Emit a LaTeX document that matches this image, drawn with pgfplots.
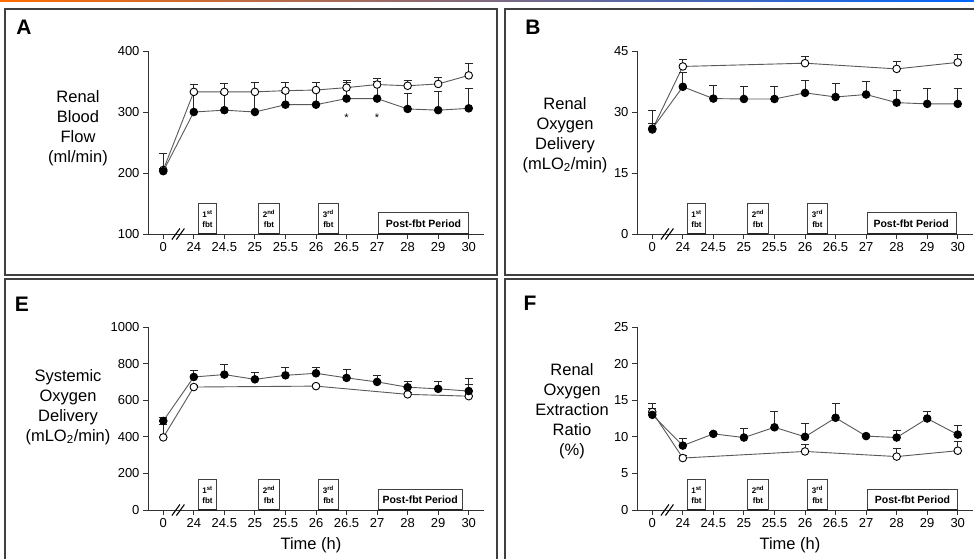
\documentclass[border=0pt]{standalone}
\usepackage{pgfplots}
\pgfplotsset{compat=1.18}
\usepackage{fontspec}
\setmainfont{Liberation Sans}
\begin{document}
\begin{tikzpicture}[x=1pt,y=1pt]
\useasboundingbox (0pt,0pt) rectangle (974pt,558pt);
\fill[white] (0pt,0pt) rectangle (974pt,558pt);
\shade[left color=orange!85!red, middle color=purple!35!pink, right color=blue!60!cyan] (0pt,556pt) rectangle (974pt,558pt);
% panel frames
\draw[black!75, line width=1.5pt] (5pt,549pt) rectangle (497pt,283pt);
\draw[black!75, line width=1.5pt] (505pt,549pt) rectangle (978pt,283pt);
\draw[black!75, line width=1.5pt] (5pt,279pt) rectangle (497pt,-5pt);
\draw[black!75, line width=1.5pt] (505pt,279pt) rectangle (978pt,-5pt);
% panel letters
\node[font=\fontsize{21}{21}\selectfont\bfseries] at (24pt,531pt) {A};
\node[font=\fontsize{21}{21}\selectfont\bfseries] at (533pt,531pt) {B};
\node[font=\fontsize{21}{21}\selectfont\bfseries] at (22pt,254pt) {E};
\node[font=\fontsize{21}{21}\selectfont\bfseries] at (530pt,255pt) {F};
% y labels
\node[align=center, font=\fontsize{16.5}{20}\selectfont] at (78pt,430pt) {Renal\\Blood\\Flow\\(ml/min)};
\node[align=center, font=\fontsize{16.5}{20}\selectfont] at (565pt,423pt) {Renal\\Oxygen\\Delivery\\(mLO\textsubscript{2}/min)};
\node[align=center, font=\fontsize{16.5}{20}\selectfont] at (68pt,151pt) {Systemic\\Oxygen\\Delivery\\(mLO\textsubscript{2}/min)};
\node[align=center, font=\fontsize{16.5}{20}\selectfont] at (572pt,147pt) {Renal\\Oxygen\\Extraction\\Ratio\\(\%)};
\node[font=\fontsize{16.5}{20}\selectfont] at (311pt,13pt) {Time (h)};
\node[font=\fontsize{16.5}{20}\selectfont] at (790pt,13pt) {Time (h)};

\tikzset{
  fbtbox/.style={draw=black!75, line width=1pt, fill=white},
  fbtlab/.style={align=center, font=\fontsize{8}{10}\selectfont\bfseries, inner sep=0pt},
}
\pgfplotsset{
  panel/.style={scale only axis, width=336pt, height=183pt,
    xmin=-0.5, xmax=10.5, axis lines=left, clip=false,
    axis line style={line width=0.9pt, black!80, -},
    xtick={0,...,10}, xticklabels={0,24,24.5,25,25.5,26,26.5,27,28,29,30},
    tick style={black!80, line width=0.9pt}, tick align=outside,
    major tick length=5pt,
    ticklabel style={font=\fontsize{13}{13}\selectfont},
    /pgf/number format/assume math mode=true,
    /pgf/number format/1000 sep={},
    anchor=south west},
  opn/.style={black!65, line width=0.9pt, mark=*, mark size=3.8pt,
    mark options={fill=white, draw=black, line width=0.9pt},
    error bars/.cd, y dir=plus, y explicit,
    error bar style={line width=1pt, black!85},
    error mark options={rotate=90, mark size=4pt, line width=1pt, black!85}},
  fld/.style={black!65, line width=0.9pt, mark=*, mark size=3.8pt,
    mark options={fill=black, draw=black},
    error bars/.cd, y dir=plus, y explicit,
    error bar style={line width=1pt, black!85},
    error mark options={rotate=90, mark size=4pt, line width=1pt, black!85}},
}
\newcommand{\fbtboxes}[3]{%
  \draw[fbtbox] (rel axis cs:0.149,0) rectangle (rel axis cs:0.205,0.164);
  \draw[fbtbox] (rel axis cs:0.330,0) rectangle (rel axis cs:0.390,0.164);
  \draw[fbtbox] (rel axis cs:0.506,0) rectangle (rel axis cs:0.568,0.164);
  \draw[fbtbox] (rel axis cs:0.685,0) rectangle (rel axis cs:#1,#2);
  \draw[line width=2pt, black!85] (rel axis cs:0.149,0) -- (rel axis cs:0.205,0);
  \draw[line width=2pt, black!85] (rel axis cs:0.330,0) -- (rel axis cs:0.390,0);
  \draw[line width=2pt, black!85] (rel axis cs:0.506,0) -- (rel axis cs:0.568,0);
  \draw[line width=2pt, black!85] (rel axis cs:0.685,0) -- (rel axis cs:#1,0);
  \node[fbtlab] at (rel axis cs:0.177,0.082) {1\textsuperscript{st}\\fbt};
  \node[fbtlab] at (rel axis cs:0.360,0.082) {2\textsuperscript{nd}\\fbt};
  \node[fbtlab] at (rel axis cs:0.537,0.082) {3\textsuperscript{rd}\\fbt};
  \node[font=\fontsize{10.5}{10.5}\selectfont\bfseries] at (rel axis cs:#3) {Post-fbt Period};
  \draw[line width=1.1pt] ([xshift=-2pt]rel axis cs:0.089,0) ++(-4pt,-5.5pt) -- ++(8pt,11pt);
  \draw[line width=1.1pt] ([xshift=2.5pt]rel axis cs:0.089,0) ++(-4pt,-5.5pt) -- ++(8pt,11pt);
}

% ---------- A ----------
\begin{axis}[panel, at={(148pt,324pt)}, ymin=100, ymax=400, ytick={100,200,300,400}]
\fbtboxes{0.955}{0.115}{0.82,0.0575}
\addplot[opn] coordinates {(0,205)+-(0,27) (1,333)+-(0,12) (2,333)+-(0,13) (3,333)+-(0,15) (4,335)+-(0,13) (5,336)+-(0,13) (6,340)+-(0,11) (7,345)+-(0,10) (8,343)+-(0,8) (9,346)+-(0,11) (10,360)+-(0,19)};
\addplot[fld] coordinates {(0,203)+-(0,5) (1,300)+-(0,30) (2,303)+-(0,28) (3,300)+-(0,33) (4,312)+-(0,20) (5,312)+-(0,22) (6,322)+-(0,26) (7,322)+-(0,28) (8,305)+-(0,25) (9,303)+-(0,31) (10,306)+-(0,32)};
\node[font=\fontsize{11}{11}\selectfont] at (axis cs:6,290) {*};
\node[font=\fontsize{11}{11}\selectfont] at (axis cs:7,290) {*};
\end{axis}

% ---------- B ----------
\begin{axis}[panel, at={(637pt,324pt)}, ymin=0, ymax=45, ytick={0,15,30,45}]
\fbtboxes{0.952}{0.115}{0.816,0.0575}
\addplot[opn] coordinates {(0,25.7)+-(0,4.7) (1,41.2)+-(0,1.8) (5,42.0)+-(0,1.6) (8,40.6)+-(0,1.9) (10,42.2)+-(0,2.0)};
\addplot[fld] coordinates {(0,25.9)+-(0,1.3) (1,36.2)+-(0,3.5) (2,33.3)+-(0,3.2) (3,33.2)+-(0,3.0) (4,33.2)+-(0,3.0) (5,34.7)+-(0,3.1) (6,33.7)+-(0,3.2) (7,34.3)+-(0,3.3) (8,32.3)+-(0,3.1) (9,32.0)+-(0,3.9) (10,32.0)+-(0,3.9)};
\end{axis}

% ---------- E ----------
\begin{axis}[panel, at={(148pt,48pt)}, ymin=0, ymax=1000, ytick={0,200,400,600,800,1000}]
\fbtboxes{0.935}{0.11}{0.81,0.055}
\addplot[opn] coordinates {(0,397)+-(0,70) (1,672)+-(0,10) (5,677)+-(0,10) (8,632)+-(0,10) (10,622)+-(0,62)};
\addplot[fld] coordinates {(0,487)+-(0,18) (1,727)+-(0,36) (2,740)+-(0,57) (3,714)+-(0,37) (4,736)+-(0,40) (5,747)+-(0,30) (6,722)+-(0,47) (7,700)+-(0,33) (8,671)+-(0,32) (9,662)+-(0,38) (10,650)+-(0,71)};
\end{axis}

% ---------- F ----------
\begin{axis}[panel, at={(637pt,48pt)}, ymin=0, ymax=25, ytick={0,5,10,15,20,25}]
\fbtboxes{0.955}{0.11}{0.82,0.055}
\addplot[opn] coordinates {(0,13.4)+-(0,0.4) (1,7.1)+-(0,0.3) (5,8.0)+-(0,1.0) (8,7.3)+-(0,1.1) (10,8.1)+-(0,1.3)};
\addplot[fld] coordinates {(0,13.0)+-(0,1.6) (1,8.8)+-(0,1.0) (2,10.4)+-(0,0.2) (3,9.9)+-(0,1.3) (4,11.3)+-(0,2.1) (5,10.0)+-(0,1.8) (6,12.6)+-(0,2.0) (7,10.1)+-(0,0.2) (8,9.9)+-(0,0.9) (9,12.5)+-(0,0.9) (10,10.3)+-(0,1.2)};
\end{axis}
\end{tikzpicture}
\end{document}
